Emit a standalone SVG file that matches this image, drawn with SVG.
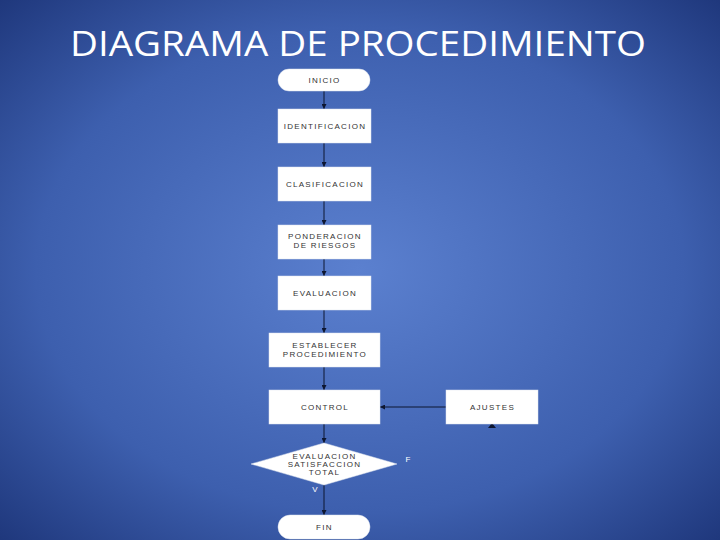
<svg xmlns="http://www.w3.org/2000/svg" width="720" height="540" viewBox="0 0 720 540">
<defs>
<radialGradient id="bg" cx="0.5" cy="0.5" r="0.75">
<stop offset="0" stop-color="#5b80cf"/>
<stop offset="0.6" stop-color="#3d5fae"/>
<stop offset="1" stop-color="#1a3174"/>
</radialGradient>
<marker id="ah" viewBox="0 0 10 10" refX="10" refY="5" markerWidth="5" markerHeight="5" orient="auto" markerUnits="userSpaceOnUse">
<path d="M0,0 L10,5 L0,10 z" fill="#0d1630"/>
</marker>
<style>
.box{fill:#ffffff;stroke:#dfe4ef;stroke-width:0.5}
.t{font-family:"Liberation Sans",Arial,sans-serif;font-size:8px;fill:#333;text-anchor:middle;letter-spacing:1.3px}
.w{font-family:"Liberation Sans",Arial,sans-serif;font-size:8px;fill:#ffffff;text-anchor:middle}
.c{stroke:#0d1630;stroke-width:1;fill:none}
</style>
</defs>
<rect width="720" height="540" fill="url(#bg)"/>
<text x="358" y="56" font-family="'Open Sans','Liberation Sans',sans-serif" font-size="34" fill="#ffffff" text-anchor="middle" textLength="576" lengthAdjust="spacingAndGlyphs">DIAGRAMA DE PROCEDIMIENTO</text>
<g id="connectors">
<line class="c" x1="324" y1="91" x2="324" y2="109" marker-end="url(#ah)"/>
<line class="c" x1="324" y1="143" x2="324" y2="167" marker-end="url(#ah)"/>
<line class="c" x1="324" y1="201" x2="324" y2="225" marker-end="url(#ah)"/>
<line class="c" x1="324" y1="259" x2="324" y2="276" marker-end="url(#ah)"/>
<line class="c" x1="324" y1="310" x2="324" y2="333" marker-end="url(#ah)"/>
<line class="c" x1="324" y1="367" x2="324" y2="390" marker-end="url(#ah)"/>
<line class="c" x1="324" y1="424" x2="324" y2="443" marker-end="url(#ah)"/>
<line class="c" x1="324" y1="485" x2="324" y2="515" marker-end="url(#ah)"/>
<line class="c" x1="446" y1="407" x2="380" y2="407" marker-end="url(#ah)"/>
<path d="M488,428 L492,423 L496,428 z" fill="#0d1630"/>
</g>
<g id="inicio">
<rect class="box" x="278" y="69" width="92" height="22" rx="11"/>
<text class="t" x="324.5" y="83">INICIO</text>
</g>
<g id="identificacion">
<rect class="box" x="278" y="109" width="93" height="34"/>
<text class="t" x="325" y="129">IDENTIFICACION</text>
</g>
<g id="clasificacion">
<rect class="box" x="278" y="167" width="93" height="34"/>
<text class="t" x="325" y="187">CLASIFICACION</text>
</g>
<g id="ponderacion">
<rect class="box" x="278" y="225" width="93" height="34"/>
<text class="t" x="325" y="239">PONDERACION</text>
<text class="t" x="325" y="248">DE RIESGOS</text>
</g>
<g id="evaluacion">
<rect class="box" x="278" y="276" width="93" height="34"/>
<text class="t" x="325" y="296">EVALUACION</text>
</g>
<g id="establecer">
<rect class="box" x="269" y="333" width="111" height="34"/>
<text class="t" x="325" y="348">ESTABLECER</text>
<text class="t" x="325" y="357">PROCEDIMIENTO</text>
</g>
<g id="control">
<rect class="box" x="269" y="390" width="111" height="34"/>
<text class="t" x="325" y="410">CONTROL</text>
</g>
<g id="ajustes">
<rect class="box" x="446" y="390" width="92" height="34"/>
<text class="t" x="492.5" y="410">AJUSTES</text>
</g>
<g id="decision">
<polygon class="box" points="324,443 397,464 324,485 251,464"/>
<text class="t" x="324.5" y="459">EVALUACION</text>
<text class="t" x="324.5" y="467">SATISFACCION</text>
<text class="t" x="324.5" y="475">TOTAL</text>
<text class="w" x="408" y="462">F</text>
<text class="w" x="315" y="492">V</text>
</g>
<g id="fin">
<rect class="box" x="278" y="515" width="92" height="24" rx="12"/>
<text class="t" x="324.5" y="530">FIN</text>
</g>
</svg>
